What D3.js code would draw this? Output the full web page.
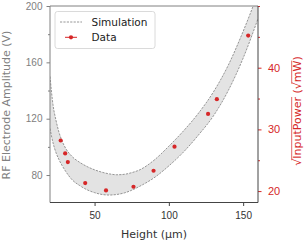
<!DOCTYPE html>
<html>
<head>
<meta charset="utf-8">
<script src="https://cdn.jsdelivr.net/npm/d3@7"></script>
<style>
  body { margin: 0; background: #fff; }
  svg { font-family: "DejaVu Sans", sans-serif; }
</style>
</head>
<body>
<svg id="chart" width="304" height="241"></svg>
<script>
// simulation band (RF amplitude, V) vs height (um)
var simHeights = [20, 22, 24, 26, 28, 30, 35, 40, 45, 50, 55, 60, 65, 70, 75, 80, 90, 100, 110, 120, 130, 140, 150, 160];
var simUpper   = [150, 130, 119, 110.5, 104.5, 100, 93, 89, 86, 83.7, 82, 80.8, 80.2, 80.5, 81.7, 83.5, 90.5, 100.5, 111.5, 124, 139, 158, 182, 209];
var simLower   = [113, 103, 96, 91, 87, 83.5, 76.5, 72.5, 69.5, 67.5, 66.2, 65.8, 66.2, 67.3, 69.2, 71.8, 78, 86.5, 96.5, 108.5, 122, 140, 163, 191];

// measured points (sqrt of input power, sqrt(mW))
var dataHeights = [27.2, 30.2, 32, 43.7, 57.7, 76.2, 89.7, 103.8, 126.4, 132.3, 153.4];
var dataSqrtPower = [28.2, 26.1, 24.7, 21.3, 20.1, 20.7, 23.3, 27.2, 32.5, 34.9, 45.2];

var xTicks = [50, 100, 150];
var leftTicks = [80, 120, 160, 200];
var leftMinor = [100, 140, 180];
var rightTicks = [20, 30, 40];
var rightMinor = [25, 35, 45, 50];

var width = 304, height = 241;
var margin = {left: 50, right: 46, top: 6, bottom: 38.5};
var red = "#d62728", gray = "#808080";

var svg = d3.select("#chart");

var x = d3.scaleLinear().domain([20, 160]).range([margin.left, width - margin.right]);
var yL = d3.scaleLinear().domain([60.5, 200]).range([height - margin.bottom, margin.top]);
var yR = d3.scaleLinear().domain([18.15, 50]).range([height - margin.bottom, margin.top]);

svg.append("clipPath").attr("id", "plotclip")
    .append("rect")
    .attr("x", margin.left).attr("y", margin.top)
    .attr("width", x.range()[1] - margin.left)
    .attr("height", yL.range()[0] - margin.top);

var plot = svg.append("g").attr("clip-path", "url(#plotclip)");

var band = simHeights.map(function(h, i){ return {h: h, lo: simLower[i], hi: simUpper[i]}; });

plot.append("path")
    .datum(band)
    .attr("fill", "#e3e3e3")
    .attr("d", d3.area()
	  .x(function(d){ return x(d.h); })
	  .y0(function(d){ return yL(d.lo); })
	  .y1(function(d){ return yL(d.hi); })
	  .curve(d3.curveMonotoneX));

["lo", "hi"].forEach(function(k){
    plot.append("path")
	.datum(band)
	.attr("fill", "none")
	.attr("stroke", "#8a8a8a")
	.attr("stroke-width", 0.9)
	.attr("stroke-dasharray", "2.2,1.2")
	.attr("d", d3.line()
	      .x(function(d){ return x(d.h); })
	      .y(function(d){ return yL(d[k]); })
	      .curve(d3.curveMonotoneX));
});

plot.selectAll("circle.pt")
    .data(dataHeights)
    .enter().append("circle")
    .attr("class", "pt")
    .attr("cx", function(d){ return x(d); })
    .attr("cy", function(d, i){ return yR(dataSqrtPower[i]); })
    .attr("r", 2.1)
    .attr("fill", red);

// axes
var bottom = svg.append("g")
    .attr("transform", "translate(0," + yL.range()[0] + ")")
    .call(d3.axisBottom(x).tickValues(xTicks).tickSize(3.5).tickPadding(6));
bottom.select(".domain").remove();
bottom.selectAll("line").attr("stroke", "#444");
bottom.selectAll("text").attr("fill", "#333").style("font-size", "10px");

var left = svg.append("g")
    .attr("transform", "translate(" + margin.left + ",0)")
    .call(d3.axisLeft(yL).tickValues(leftTicks).tickSize(3.5).tickPadding(4));
left.select(".domain").remove();
left.selectAll("line").attr("stroke", gray);
left.selectAll("text").attr("fill", gray).style("font-size", "10px");

svg.append("g")
    .attr("transform", "translate(" + margin.left + ",0)")
    .call(d3.axisLeft(yL).tickValues(leftMinor).tickSize(2).tickFormat(""))
    .call(function(g){ g.select(".domain").remove(); g.selectAll("line").attr("stroke", gray); });

var xr = x.range()[1];
var right = svg.append("g")
    .attr("transform", "translate(" + xr + ",0)")
    .call(d3.axisRight(yR).tickValues(rightTicks).tickSize(3.5).tickPadding(6.5));
right.select(".domain").remove();
right.selectAll("line").attr("stroke", red);
right.selectAll("text").attr("fill", red).style("font-size", "11px");

svg.append("g")
    .attr("transform", "translate(" + xr + ",0)")
    .call(d3.axisRight(yR).tickValues(rightMinor).tickSize(2).tickFormat(""))
    .call(function(g){ g.select(".domain").remove(); g.selectAll("line").attr("stroke", red); });

// spines
var y0 = yL.range()[0], y1 = yL.range()[1];
svg.append("line").attr("x1", margin.left).attr("x2", margin.left).attr("y1", y0).attr("y2", y1).attr("stroke", gray).attr("stroke-width", 1);
svg.append("line").attr("x1", margin.left).attr("x2", xr).attr("y1", y1).attr("y2", y1).attr("stroke", gray).attr("stroke-width", 1);
svg.append("line").attr("x1", margin.left).attr("x2", xr).attr("y1", y0).attr("y2", y0).attr("stroke", "#444").attr("stroke-width", 1);
svg.append("line").attr("x1", xr).attr("x2", xr).attr("y1", y0).attr("y2", y1).attr("stroke", "#444").attr("stroke-width", 1);

// axis labels
svg.append("text")
    .attr("x", (margin.left + xr) / 2).attr("y", 238)
    .attr("text-anchor", "middle")
    .attr("fill", "#333").style("font-size", "11px")
    .text("Height (µm)");

svg.append("text")
    .attr("transform", "translate(10,105) rotate(-90)")
    .attr("text-anchor", "middle")
    .attr("fill", gray).style("font-size", "11px")
    .text("RF Electrode Amplitude (V)");

var rl = svg.append("g").attr("transform", "translate(301,111) rotate(-90)");
var rlText = rl.append("text")
    .attr("text-anchor", "middle")
    .attr("fill", red).style("font-size", "11px")
    .text("√InputPower (√mW)");
var node = rlText.node();
var total = node.getComputedTextLength();
var start = -total / 2;
function overline(from, len){
    var a = start + node.getSubStringLength(0, from) - 1.5;
    var b = start + node.getSubStringLength(0, from + len);
    rl.append("line").attr("x1", a).attr("x2", b).attr("y1", -9.3).attr("y2", -9.3)
	.attr("stroke", red).attr("stroke-width", 0.7);
}
overline(1, 10);
overline(14, 2);

// legend
var lg = svg.append("g");
lg.append("rect")
    .attr("x", 55).attr("y", 11.5).attr("width", 100).attr("height", 37)
    .attr("rx", 2.5)
    .attr("fill", "#fff").attr("fill-opacity", 0.8)
    .attr("stroke", "#d0d0d0").attr("stroke-width", 0.8);
lg.append("line").attr("x1", 60).attr("x2", 82).attr("y1", 22).attr("y2", 22)
    .attr("stroke", "#8a8a8a").attr("stroke-width", 0.9).attr("stroke-dasharray", "2.2,1.2");
lg.append("text").attr("x", 91.5).attr("y", 25.8).attr("fill", "#222").style("font-size", "10.5px").text("Simulation");
lg.append("line").attr("x1", 65).attr("x2", 77).attr("y1", 37.3).attr("y2", 37.3)
    .attr("stroke", red).attr("stroke-width", 1);
lg.append("circle").attr("cx", 71).attr("cy", 37.3).attr("r", 2.1).attr("fill", red);
lg.append("text").attr("x", 91.5).attr("y", 41.1).attr("fill", "#222").style("font-size", "10.5px").text("Data");
</script>
</body>
</html>
